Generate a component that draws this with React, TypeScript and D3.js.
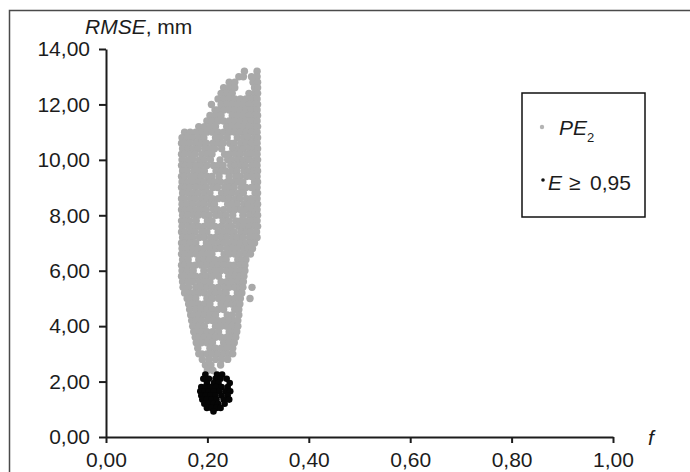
import React, { useRef, useEffect } from "react";
import * as d3 from "d3";

// f ticks and RMSE ticks
const xTicks = [0, 0.2, 0.4, 0.6, 0.8, 1.0];
const yTicks = [0, 2, 4, 6, 8, 10, 12, 14];

// PE2 cloud, read row by row: [RMSE mm, f values in thousandths]
const peRows: [number, number[]][] = [
  [13.2, [273, 298]],
  [13.0, [262, 271, 287, 298]],
  [12.8, [243, 254, 290, 299]],
  [12.6, [232, 243, 254, 293, 299]],
  [12.4, [227, 238, 249, 282, 293, 299]],
  [12.2, [221, 232, 243, 254, 265, 276, 287, 298]],
  [12.0, [208, 227, 238, 249, 260, 271, 282, 293, 299]],
  [11.8, [215, 221, 232, 243, 254, 265, 276, 287, 298]],
  [11.6, [205, 216, 227, 249, 260, 271, 282, 293, 299]],
  [11.4, [199, 210, 221, 232, 243, 254, 265, 276, 287, 298]],
  [11.2, [183, 194, 205, 216, 238, 249, 260, 271, 282, 293, 299]],
  [11.0, [155, 166, 177, 188, 199, 210, 221, 232, 243, 254, 265, 276, 287, 298]],
  [10.8, [150, 160, 171, 183, 193, 216, 226, 239, 259, 271, 281, 293, 299]],
  [10.6, [149, 156, 165, 178, 188, 198, 211, 222, 231, 244, 253, 266, 276, 287, 298]],
  [10.4, [151, 161, 172, 182, 195, 205, 214, 228, 250, 262, 271, 283, 292, 299]],
  [10.2, [149, 155, 167, 176, 189, 200, 209, 234, 243, 255, 264, 277, 286, 298]],
  [10.0, [150, 162, 171, 184, 193, 206, 225, 240, 248, 260, 270, 282, 294, 299]],
  [9.8, [149, 156, 166, 177, 187, 199, 212, 221, 231, 246, 254, 266, 275, 288, 298]],
  [9.6, [151, 160, 173, 182, 194, 217, 228, 236, 249, 258, 272, 281, 292, 299]],
  [9.4, [149, 155, 167, 178, 188, 200, 209, 223, 243, 256, 264, 277, 287, 298]],
  [9.2, [150, 161, 171, 183, 193, 206, 215, 226, 239, 251, 260, 270, 293, 299]],
  [9.0, [149, 156, 165, 177, 189, 198, 211, 220, 234, 244, 253, 267, 276, 287, 298]],
  [8.8, [151, 162, 172, 182, 194, 205, 228, 238, 248, 261, 271, 294, 299]],
  [8.6, [149, 155, 167, 176, 188, 199, 210, 221, 232, 243, 255, 264, 277, 286, 298]],
  [8.4, [150, 160, 171, 184, 193, 206, 214, 240, 249, 259, 272, 281, 292, 299]],
  [8.2, [149, 156, 166, 177, 189, 198, 212, 220, 232, 245, 254, 266, 276, 288, 298]],
  [8.0, [151, 161, 173, 182, 194, 204, 217, 226, 237, 250, 270, 283, 293, 299]],
  [7.8, [149, 155, 165, 178, 200, 209, 231, 243, 256, 265, 276, 287, 298]],
  [7.6, [150, 162, 172, 183, 193, 205, 215, 227, 239, 248, 261, 271, 282, 294, 299]],
  [7.4, [149, 156, 167, 176, 189, 199, 221, 233, 244, 253, 266, 277, 286, 297]],
  [7.2, [151, 160, 171, 184, 194, 206, 216, 228, 238, 250, 259, 270, 283, 292, 298]],
  [7.0, [149, 155, 166, 177, 198, 210, 222, 232, 244, 255, 265, 276, 287, 293]],
  [6.8, [150, 161, 172, 182, 193, 205, 217, 226, 239, 249, 260, 272, 281, 289]],
  [6.6, [149, 156, 167, 178, 189, 200, 209, 233, 243, 254, 264, 276, 285]],
  [6.4, [151, 162, 183, 194, 204, 215, 227, 237, 260, 268, 276]],
  [6.2, [149, 155, 166, 176, 188, 199, 211, 221, 232, 244, 253, 265, 274]],
  [6.0, [150, 160, 172, 193, 206, 216, 226, 238, 249, 258, 267, 274]],
  [5.8, [149, 156, 167, 177, 189, 198, 210, 222, 242, 254, 265, 272]],
  [5.6, [151, 161, 171, 184, 194, 205, 227, 238, 248, 260, 271]],
  [5.4, [152, 163, 177, 188, 199, 210, 221, 233, 243, 254, 264, 270, 288]],
  [5.2, [155, 165, 172, 183, 194, 206, 216, 226, 237, 259, 268]],
  [5.0, [160, 167, 177, 199, 210, 222, 232, 243, 254, 265, 284]],
  [4.8, [163, 172, 183, 194, 205, 227, 238, 248, 257, 264]],
  [4.6, [165, 177, 188, 199, 210, 221, 232, 254, 262]],
  [4.4, [167, 173, 183, 194, 205, 216, 239, 249, 262]],
  [4.2, [169, 178, 188, 200, 210, 221, 232, 243, 254, 260]],
  [4.0, [171, 183, 194, 216, 227, 238, 249, 260]],
  [3.8, [173, 178, 188, 199, 210, 222, 243, 254, 258]],
  [3.6, [176, 183, 194, 205, 216, 227, 238, 248, 256]],
  [3.4, [178, 188, 199, 210, 232, 243, 253]],
  [3.2, [181, 205, 216, 227, 238, 250]],
  [3.0, [183, 189, 199, 210, 221, 232, 243, 250]],
  [2.8, [190, 203, 216, 228, 240]],
  [2.6, [196, 207, 226]],
  [2.4, [200, 211]],
];

// E >= 0,95 points: [RMSE mm, f values in thousandths]
const eRows: [number, number[]][] = [
  [2.25, [196, 219, 229]],
  [2.1, [192, 203, 216, 226, 238]],
  [1.95, [199, 213, 222, 244]],
  [1.8, [188, 196, 206, 217, 228, 240]],
  [1.65, [186, 194, 203, 213, 224, 236, 245]],
  [1.5, [188, 197, 206, 216, 228, 240]],
  [1.35, [190, 199, 208, 218, 232, 243]],
  [1.2, [194, 203, 212, 221, 234]],
  [1.05, [199, 208, 218, 226]],
  [0.92, [212]],
];

const toPoints = (rows: [number, number[]][]) =>
  rows.flatMap(([v, fs]) => fs.map((f) => ({ f: f / 1000, v })));

const W = 690;
const H = 472;
const FONT = "'Liberation Sans', Arial, sans-serif";
const INK = "#1c1c1c";

export default function App() {
  const svgRef = useRef<SVGSVGElement>(null);

  useEffect(() => {
    const svg = d3.select(svgRef.current);
    svg.selectAll("*").remove();

    const x = d3.scaleLinear().domain([0, 1]).range([106, 613]);
    const y = d3.scaleLinear().domain([0, 14]).range([437, 49]);

    const locale = d3.formatLocale({ decimal: ",", thousands: ".", grouping: [3], currency: ["", ""] });
    const fmt = locale.format(".2f");

    // outer frame (runs off the right and bottom edge)
    svg.append("rect")
      .attr("x", 9.5).attr("y", 10.5)
      .attr("width", W + 20).attr("height", H + 20)
      .attr("fill", "white")
      .attr("stroke", "#4a4a4a")
      .attr("stroke-width", 1.5);

    // points
    svg.append("g")
      .selectAll("circle")
      .data(toPoints(peRows))
      .join("circle")
      .attr("cx", (d) => x(d.f))
      .attr("cy", (d) => y(d.v))
      .attr("r", 3.7)
      .attr("fill", "#a9a9a9");

    svg.append("g")
      .selectAll("circle")
      .data(toPoints(eRows))
      .join("circle")
      .attr("cx", (d) => x(d.f))
      .attr("cy", (d) => y(d.v))
      .attr("r", 3.3)
      .attr("fill", "#050505");

    // axes
    const yAxis = svg.append("g")
      .attr("transform", "translate(106,0)")
      .call(d3.axisLeft(y).tickValues(yTicks).tickSize(7).tickSizeOuter(0).tickPadding(9).tickFormat(fmt));
    const xAxis = svg.append("g")
      .attr("transform", "translate(0,437)")
      .call(d3.axisBottom(x).tickValues(xTicks).tickSize(6).tickSizeOuter(0).tickPadding(9).tickFormat(fmt));

    [yAxis, xAxis].forEach((g) => {
      g.attr("font-family", FONT).attr("font-size", 21);
      g.select(".domain").attr("stroke", INK).attr("stroke-width", 2);
      g.selectAll(".tick line").attr("stroke", INK).attr("stroke-width", 2);
      g.selectAll(".tick text").attr("fill", INK);
    });

    // axis titles
    const title = svg.append("text")
      .attr("x", 85).attr("y", 34)
      .attr("font-family", FONT).attr("font-size", 21).attr("fill", INK);
    title.append("tspan").attr("font-style", "italic").text("RMSE");
    title.append("tspan").text(", mm");

    svg.append("text")
      .attr("x", 648).attr("y", 445)
      .attr("font-family", FONT).attr("font-size", 21)
      .attr("font-style", "italic").attr("fill", INK)
      .text("f");

    // legend
    const lg = svg.append("g").attr("font-family", FONT).attr("font-size", 21).attr("fill", INK);
    lg.append("rect")
      .attr("x", 522).attr("y", 93).attr("width", 123).attr("height", 124)
      .attr("fill", "white").attr("stroke", "#111").attr("stroke-width", 1.5);

    lg.append("circle").attr("cx", 542).attr("cy", 127).attr("r", 2.2).attr("fill", "#b4b4b4");
    const t1 = lg.append("text").attr("x", 559).attr("y", 135);
    t1.append("tspan").attr("font-style", "italic").text("PE");
    t1.append("tspan").attr("font-size", 13).attr("dy", 7).text("2");

    lg.append("circle").attr("cx", 543).attr("cy", 180).attr("r", 1.8).attr("fill", "#111");
    const t2 = lg.append("text").attr("x", 548).attr("y", 190);
    t2.append("tspan").attr("font-style", "italic").text("E");
    t2.append("tspan").attr("x", 569).text("≥");
    t2.append("tspan").attr("x", 590).text("0,95");
  }, []);

  return (
    <svg
      ref={svgRef}
      width={W}
      height={H}
      style={{ position: "absolute", left: 0, top: 0, background: "white" }}
    />
  );
}
